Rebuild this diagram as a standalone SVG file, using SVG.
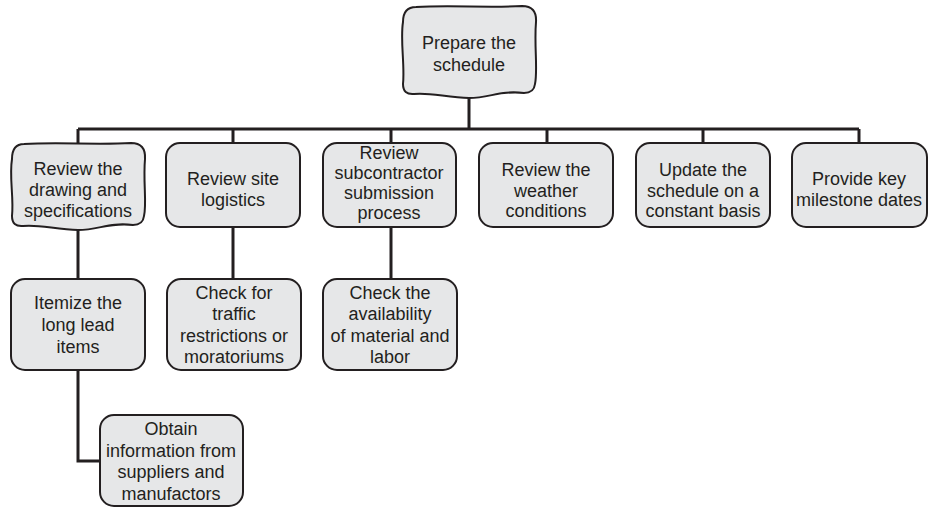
<svg xmlns="http://www.w3.org/2000/svg" width="932" height="508" viewBox="0 0 932 508">
  <style>
    .box { fill: #e6e7e8; stroke: #231f20; stroke-width: 2; }
    .wire { fill: none; stroke: #231f20; stroke-width: 3; stroke-linejoin: miter; }
    .lbl { font-family: "Liberation Sans", Arial, sans-serif; font-size: 18px; fill: #231f20; text-anchor: middle; }
  </style>
  <rect width="932" height="508" fill="#ffffff"/>

  <!-- connectors -->
  <g id="connectors" class="wire">
    <path d="M469 97 V129"/>
    <path d="M78 129 H859"/>
    <path d="M78 129 V144"/>
    <path d="M233 129 V144"/>
    <path d="M391 129 V144"/>
    <path d="M547 129 V144"/>
    <path d="M703 129 V144"/>
    <path d="M859 129 V144"/>
    <path d="M78 227 V280"/>
    <path d="M233 227 V280"/>
    <path d="M391 227 V280"/>
    <path d="M78 370 V461 H101"/>
  </g>

  <!-- root -->
  <g id="prepare-schedule">
    <path class="box" d="M416 7 C450 5 490 8 522 6 Q537 6 536 22 C534 45 538 70 535 84 Q534 93 524 93 C500 90 490 98 469 98 C448 98 430 92 414 94 Q403 95 403 84 C405 65 400 40 403 22 Q403 7 416 7 Z"/>
    <text class="lbl" x="469" y="49">Prepare the</text>
    <text class="lbl" x="469" y="71">schedule</text>
  </g>

  <!-- first level -->
  <g id="review-drawing">
    <path class="box" d="M24 144 C58 142 98 145 131 143 Q146 143 145 159 C143 182 147 203 144 216 Q143 225 133 225 C109 222 99 230 78 230 C57 230 39 224 23 226 Q12 227 12 216 C14 197 9 177 12 159 Q12 144 24 144 Z"/>
    <text class="lbl" x="78" y="175">Review the</text>
    <text class="lbl" x="78" y="196">drawing and</text>
    <text class="lbl" x="78" y="217">specifications</text>
  </g>

  <g id="review-site">
    <rect class="box" x="166" y="143" width="134" height="84" rx="14"/>
    <text class="lbl" x="233" y="185">Review site</text>
    <text class="lbl" x="233" y="206">logistics</text>
  </g>

  <g id="review-subcontractor">
    <rect class="box" x="323" y="143" width="133" height="84" rx="14"/>
    <text class="lbl" x="389" y="159">Review</text>
    <text class="lbl" x="389" y="179">subcontractor</text>
    <text class="lbl" x="389" y="199">submission</text>
    <text class="lbl" x="389" y="219">process</text>
  </g>

  <g id="review-weather">
    <rect class="box" x="479" y="143" width="134" height="84" rx="14"/>
    <text class="lbl" x="546" y="176">Review the</text>
    <text class="lbl" x="546" y="197">weather</text>
    <text class="lbl" x="546" y="217">conditions</text>
  </g>

  <g id="update-schedule">
    <rect class="box" x="636" y="143" width="134" height="84" rx="14"/>
    <text class="lbl" x="703" y="176">Update the</text>
    <text class="lbl" x="703" y="197">schedule on a</text>
    <text class="lbl" x="703" y="217">constant basis</text>
  </g>

  <g id="milestone-dates">
    <rect class="box" x="792" y="143" width="135" height="84" rx="14"/>
    <text class="lbl" x="859" y="185">Provide key</text>
    <text class="lbl" x="859" y="206">milestone dates</text>
  </g>

  <!-- second level -->
  <g id="itemize-items">
    <rect class="box" x="11" y="279" width="134" height="91" rx="14"/>
    <text class="lbl" x="78" y="309">Itemize the</text>
    <text class="lbl" x="78" y="331">long lead</text>
    <text class="lbl" x="78" y="353">items</text>
  </g>

  <g id="check-traffic">
    <rect class="box" x="167" y="279" width="134" height="91" rx="14"/>
    <text class="lbl" x="234" y="299">Check for</text>
    <text class="lbl" x="234" y="320">traffic</text>
    <text class="lbl" x="234" y="342">restrictions or</text>
    <text class="lbl" x="234" y="363">moratoriums</text>
  </g>

  <g id="check-availability">
    <rect class="box" x="323" y="279" width="134" height="91" rx="14"/>
    <text class="lbl" x="390" y="299">Check the</text>
    <text class="lbl" x="390" y="320">availability</text>
    <text class="lbl" x="390" y="342">of material and</text>
    <text class="lbl" x="390" y="363">labor</text>
  </g>

  <!-- third level -->
  <g id="obtain-information">
    <rect class="box" x="100" y="415" width="143" height="91" rx="14"/>
    <text class="lbl" x="171" y="435">Obtain</text>
    <text class="lbl" x="171" y="457">information from</text>
    <text class="lbl" x="171" y="478">suppliers and</text>
    <text class="lbl" x="171" y="500">manufactors</text>
  </g>
</svg>
